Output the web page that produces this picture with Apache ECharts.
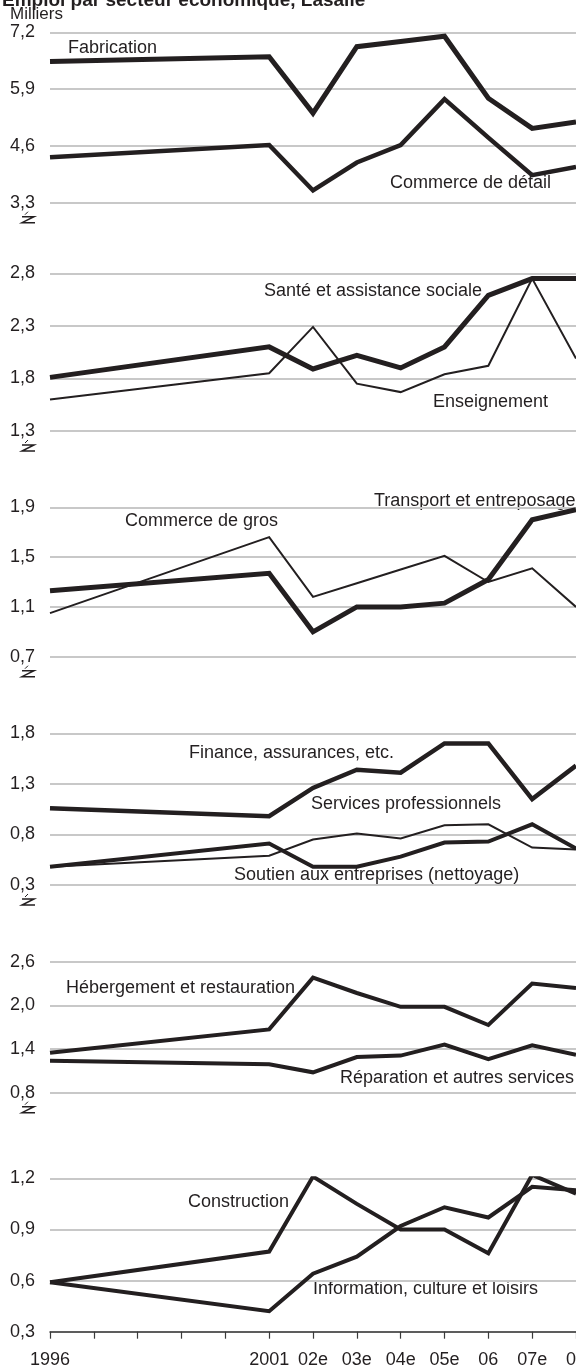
<!DOCTYPE html>
<html>
<head>
<meta charset="utf-8">
<script src="https://cdn.jsdelivr.net/npm/echarts@6/dist/echarts.min.js"></script>
<style>
  html, body { margin: 0; padding: 0; background: #fff; }
  #chart { width: 576px; height: 1372px; }
</style>
</head>
<body>
<div id="chart"></div>
<script>
// années (axe x) et étiquettes des graduations
const years = [1996, 2001, 2002, 2003, 2004, 2005, 2006, 2007, 2008]
const tickYears = [1996, 1997, 1998, 1999, 2000, 2001, 2002, 2003, 2004, 2005, 2006, 2007, 2008]
const tickLabels = ['1996', '', '', '', '', '2001', '02e', '03e', '04e', '05e', '06', '07e', '08']

// milliers d'emplois, par secteur
const fabrication = [6.53, 6.64, 5.35, 6.87, 6.99, 7.11, 5.69, 5.00, 5.15]
const commerceDetail = [4.34, 4.62, 3.58, 4.22, 4.62, 5.67, 4.79, 3.93, 4.12]
const sante = [1.81, 2.10, 1.89, 2.02, 1.90, 2.10, 2.59, 2.75, 2.75]
const enseignement = [1.60, 1.85, 2.29, 1.75, 1.67, 1.84, 1.92, 2.75, 1.99]
const transport = [1.23, 1.37, 0.90, 1.10, 1.10, 1.13, 1.32, 1.80, 1.88]
const commerceGros = [1.05, 1.66, 1.18, 1.29, 1.40, 1.51, 1.30, 1.41, 1.10]
const finance = [1.06, 0.98, 1.26, 1.44, 1.41, 1.70, 1.70, 1.15, 1.48]
const servicesPro = [0.48, 0.59, 0.75, 0.81, 0.76, 0.89, 0.90, 0.67, 0.65]
const soutien = [0.48, 0.71, 0.48, 0.48, 0.58, 0.72, 0.73, 0.90, 0.66]
const hebergement = [1.35, 1.67, 2.38, 2.17, 1.98, 1.98, 1.73, 2.30, 2.24]
const reparation = [1.24, 1.19, 1.08, 1.29, 1.31, 1.46, 1.26, 1.45, 1.32]
const construction = [0.59, 0.77, 1.21, 1.05, 0.90, 0.90, 0.76, 1.22, 1.11]
const information = [0.59, 0.42, 0.64, 0.74, 0.92, 1.03, 0.97, 1.15, 1.13]

// échelles des six panneaux : [min, max, pas]
const scales = [[3.3, 7.2, 1.3], [1.3, 2.8, 0.5], [0.7, 1.9, 0.4], [0.3, 1.8, 0.5], [0.8, 2.6, 0.6], [0.3, 1.2, 0.3]]

const INK = '#231f20'
const FONT = 'Liberation Sans, Arial, sans-serif'

const panels = [
  { top: 32.3, bottom: 202.7 },
  { top: 273.3, bottom: 431 },
  { top: 507.3, bottom: 656.7 },
  { top: 733.3, bottom: 885 },
  { top: 961.7, bottom: 1092.7 },
  { top: 1178.3, bottom: 1331.7 }
]

const lines = [
  { name: 'Fabrication', data: fabrication, panel: 0, width: 5 },
  { name: 'Commerce de détail', data: commerceDetail, panel: 0, width: 4.5 },
  { name: 'Santé et assistance sociale', data: sante, panel: 1, width: 5 },
  { name: 'Enseignement', data: enseignement, panel: 1, width: 2 },
  { name: 'Transport et entreposage', data: transport, panel: 2, width: 5 },
  { name: 'Commerce de gros', data: commerceGros, panel: 2, width: 2 },
  { name: 'Finance, assurances, etc.', data: finance, panel: 3, width: 4.5 },
  { name: 'Services professionnels', data: servicesPro, panel: 3, width: 2 },
  { name: 'Soutien aux entreprises (nettoyage)', data: soutien, panel: 3, width: 4 },
  { name: 'Hébergement et restauration', data: hebergement, panel: 4, width: 4 },
  { name: 'Réparation et autres services', data: reparation, panel: 4, width: 4 },
  { name: 'Construction', data: construction, panel: 5, width: 4 },
  { name: 'Information, culture et loisirs', data: information, panel: 5, width: 4 }
]

// étiquettes des courbes
const notes = [
  ['Fabrication', 68, 48],
  ['Commerce de détail', 390, 183],
  ['Santé et assistance sociale', 264, 291],
  ['Enseignement', 433, 402],
  ['Commerce de gros', 125, 521],
  ['Transport et entreposage', 374, 501],
  ['Finance, assurances, etc.', 189, 753],
  ['Services professionnels', 311, 804],
  ['Soutien aux entreprises (nettoyage)', 234, 875],
  ['Hébergement et restauration', 66, 988],
  ['Réparation et autres services', 340, 1078],
  ['Construction', 188, 1202],
  ['Information, culture et loisirs', 313, 1289]
]

const chart = echarts.init(document.getElementById('chart'), null, { renderer: 'canvas' })

const last = panels.length - 1
const grid = panels.map(p => ({
  left: 50, right: 0, top: p.top, height: p.bottom - p.top,
  containLabel: false, outerBoundsMode: 'none'
}))

const xAxis = panels.map((p, i) => ({
  type: 'value',
  gridIndex: i,
  min: tickYears[0],
  max: tickYears[tickYears.length - 1],
  interval: 1,
  show: i === last,
  axisLine: { show: i === last, lineStyle: { color: '#3a3a3a', width: 1.5 } },
  axisTick: { show: i === last, length: 7, lineStyle: { color: '#3a3a3a', width: 1.2 } },
  axisLabel: {
    show: i === last,
    interval: 0,
    hideOverlap: false,
    margin: 19,
    fontSize: 18,
    fontFamily: FONT,
    color: INK,
    formatter: v => tickLabels[tickYears.indexOf(Math.round(v))] || ''
  },
  splitLine: { show: false }
}))

const yAxis = scales.map((s, i) => ({
  type: 'value',
  gridIndex: i,
  min: s[0],
  max: s[1],
  interval: s[2],
  axisLine: { show: false },
  axisTick: { show: false },
  axisLabel: {
    margin: 15,
    fontSize: 18,
    fontFamily: FONT,
    color: INK,
    formatter: v => v.toFixed(1).replace('.', ',')
  },
  splitLine: { lineStyle: { color: '#c8c8c8', width: 2 } }
}))

const series = lines.map(l => ({
  name: l.name,
  type: 'line',
  xAxisIndex: l.panel,
  yAxisIndex: l.panel,
  data: years.map((y, k) => [y, l.data[k]]),
  symbol: 'none',
  silent: true,
  lineStyle: { color: INK, width: l.width, cap: 'butt', join: 'miter' },
  z: 3
}))

const graphic = [
  {
    type: 'text', x: 2, y: 10,
    style: { text: 'Emploi par secteur économique, Lasalle', font: 'bold 19px ' + FONT, fill: INK, align: 'left', verticalAlign: 'bottom' }
  },
  {
    type: 'text', x: 10, y: 14,
    style: { text: 'Milliers', font: '17px ' + FONT, fill: INK, align: 'left', verticalAlign: 'middle' }
  }
]
notes.forEach(n => {
  graphic.push({
    type: 'text', x: n[1], y: n[2],
    style: { text: n[0], font: '18px ' + FONT, fill: INK, align: 'left', verticalAlign: 'middle' }
  })
})
// symbole de coupure d'axe sous chaque panneau sauf le dernier
panels.slice(0, last).forEach(p => {
  const b = p.bottom
  graphic.push({
    type: 'polyline',
    shape: { points: [[22, b + 14], [34, b + 14], [22, b + 20], [35, b + 20]] },
    style: { stroke: INK, lineWidth: 1.5, fill: null }
  })
  graphic.push({
    type: 'line',
    shape: { x1: 25, y1: b + 12, x2: 28, y2: b + 9 },
    style: { stroke: INK, lineWidth: 1 }
  })
})

chart.setOption({
  animation: false,
  backgroundColor: '#fff',
  grid: grid,
  xAxis: xAxis,
  yAxis: yAxis,
  series: series,
  graphic: graphic
})

window.onresize = function () {
  chart.resize()
}
</script>
</body>
</html>
